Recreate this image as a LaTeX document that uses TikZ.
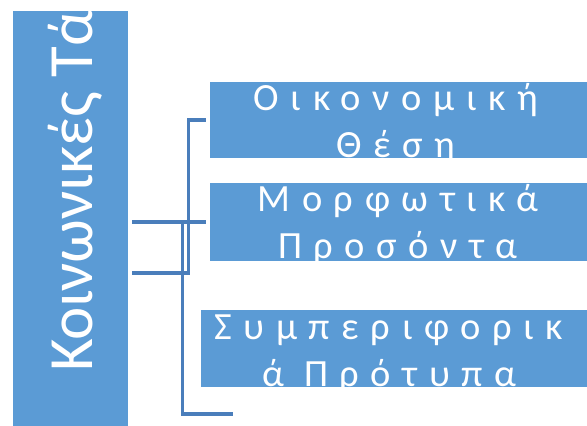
\documentclass[tikz,border=0pt]{standalone}
\usepackage{fontspec}
\setmainfont{Carlito}
\definecolor{boxblue}{HTML}{5B9BD5}
\definecolor{lineblue}{HTML}{4A7EBB}
\tikzset{
  boxnode/.style={fill=boxblue, draw=none, inner sep=0pt, minimum width=#1},
  sidetext/.style={text=white, inner sep=0pt, font=\fontsize{63}{72}\selectfont},
  itemtext/.style={text=white, inner sep=0pt, align=center,
    font=\fontsize{38.5}{47}\selectfont\addfontfeatures{LetterSpace=30}},
  conn/.style={draw=lineblue, line width=3.5pt}
}
\begin{document}
\begin{tikzpicture}[x=1pt,y=-1pt]
\useasboundingbox (0,0) rectangle (587,426);
\clip (0,0) rectangle (587,426);
% boxes
\node[boxnode=115pt, minimum height=420pt, anchor=north west] (L) at (13,11) {};
\node[boxnode=390pt, minimum height=76pt, anchor=north west] (B1) at (210,82) {};
\node[boxnode=390pt, minimum height=78pt, anchor=north west] (B2) at (210,183) {};
\node[boxnode=390pt, minimum height=77pt, anchor=north west] (B3) at (201,310) {};
% texts
\node[sidetext, rotate=90, anchor=base west] (LT) at (92,372) {Κοινωνικές Τά};
\node[itemtext, anchor=base] (T1) at (396,157) {Οικονομική\\Θέση};
\node[itemtext, anchor=base] (T2) at (398,258) {Μορφωτικά\\Προσόντα};
\node[itemtext, anchor=base] (T3) at (389,386) {Συμπεριφορικ\\ά Πρότυπα};
% connectors
\coordinate (c3end) at (233,414);
\draw[conn] ([shift={(4,52)}]L.east) -- ++(56,0) |- ([xshift=-4]B1.west);
\draw[conn] ([shift={(4,1)}]L.east) -- ([xshift=-4]B2.west);
\draw[conn] ([shift={(4,1)}]L.east) -- ++(50,0) |- (c3end);
\end{tikzpicture}
\end{document}
